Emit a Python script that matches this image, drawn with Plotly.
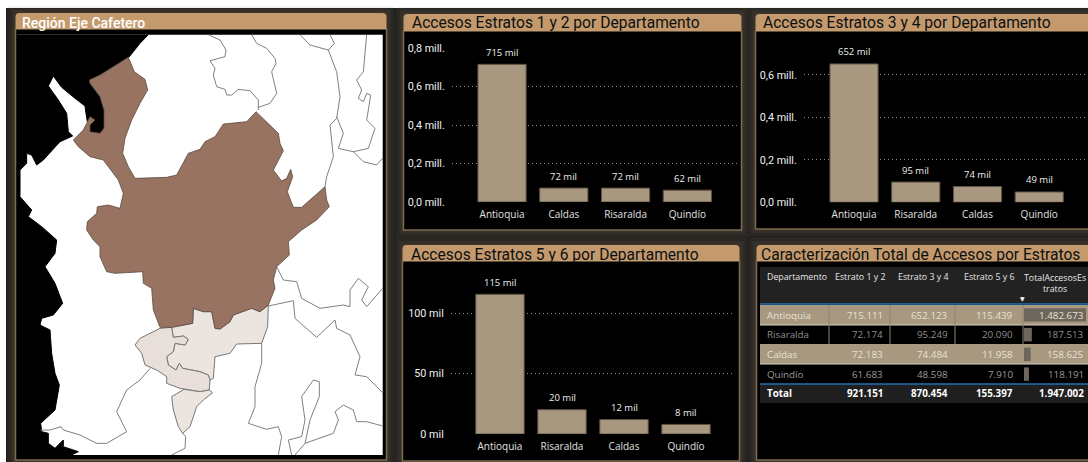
import plotly.graph_objects as go

W, H = 1088, 462

# --- bar data ---
DEPT_12 = ["Antioquia", "Caldas", "Risaralda", "Quindío"]
VALS_12 = [715111, 72183, 72174, 61683]
LABELS_12 = ["715 mil", "72 mil", "72 mil", "62 mil"]

DEPT_34 = ["Antioquia", "Risaralda", "Caldas", "Quindío"]
VALS_34 = [652123, 95249, 74484, 48598]
LABELS_34 = ["652 mil", "95 mil", "74 mil", "49 mil"]

DEPT_56 = ["Antioquia", "Risaralda", "Caldas", "Quindío"]
VALS_56 = [115439, 20090, 11958, 7910]
LABELS_56 = ["115 mil", "20 mil", "12 mil", "8 mil"]

TICKS_MILL = [0, 200000, 400000, 600000, 800000]
TICKTEXT_MILL = ["0,0 mill.", "0,2 mill.", "0,4 mill.", "0,6 mill.", "0,8 mill."]
TICKS_MIL = [0, 50000, 100000]
TICKTEXT_MIL = ["0 mil", "50 mil", "100 mil"]

# --- table data ---
TABLE_HEADER = ["Departamento", "Estrato 1 y 2", "Estrato 3 y 4", "Estrato 5 y 6"]
TABLE_DEPTS = ["Antioquia", "Risaralda", "Caldas", "Quindío", "Total"]
TABLE_E12 = ["715.111", "72.174", "72.183", "61.683", "921.151"]
TABLE_E34 = ["652.123", "95.249", "74.484", "48.598", "870.454"]
TABLE_E56 = ["115.439", "20.090", "11.958", "7.910", "155.397"]
TABLE_TOTAL = ["1.482.673", "187.513", "158.625", "118.191", "1.947.002"]
TOTAL_VALUES = [1482673, 187513, 158625, 118191]

SEA_TOP = [(51, 104), (445, 104), (420, 130), (388, 170), (300, 225), (268, 240), (270, 250), (300, 290),
           (312, 330), (312, 385), (300, 400), (270, 395), (270, 375), (285, 360), (270, 350), (262, 365),
           (258, 340), (255, 318), (225, 295), (185, 262), (160, 228), (145, 258), (175, 300), (200, 340),
           (205, 395), (218, 408), (180, 425), (130, 480), (110, 495), (95, 465), (80, 460), (80, 490),
           (60, 510), (60, 590), (95, 630), (85, 650), (125, 680)]
SEA_LOW = [(170, 30), (165, 70), (135, 110), (165, 160), (188, 220), (160, 255), (125, 265), (120, 285),
           (150, 300), (155, 370), (165, 430), (178, 465), (165, 540), (122, 580), (125, 605), (145, 610),
           (145, 640), (165, 655), (190, 630), (190, 650), (235, 665), (215, 675), (51, 675)]

ANTIOQUIA_TOP = [(385, 172), (403, 215), (435, 238), (443, 270), (420, 310), (395, 360), (375, 415), (368, 460),
                 (385, 500), (405, 535), (500, 532), (530, 525), (565, 460), (600, 448), (615, 425), (645, 410),
                 (670, 372), (740, 365), (768, 335), (835, 400), (840, 430), (850, 452), (820, 510), (845, 543),
                 (860, 535), (872, 508), (878, 530), (862, 575), (880, 622), (905, 622), (975, 560), (980, 600),
                 (988, 620), (950, 660)]
ANTIOQUIA_LOW = [(905, 0), (865, 35), (868, 75), (830, 110), (820, 150), (825, 175), (805, 225), (780, 245),
                 (755, 235), (700, 255), (690, 275), (660, 297), (645, 295), (635, 245), (610, 245), (580, 235),
                 (578, 280), (515, 292), (480, 292), (460, 240), (455, 175), (430, 160), (428, 125), (345, 130),
                 (320, 125), (300, 80), (300, 50), (280, 30), (260, 0)]
ANTIOQUIA_END = [(262, 665), (290, 640), (292, 620), (325, 615), (360, 625), (370, 580), (355, 540), (310, 480),
                 (270, 470), (235, 440), (220, 420), (250, 390), (262, 365), (270, 350), (285, 360), (270, 375),
                 (270, 395), (300, 400), (312, 385), (312, 330), (300, 290), (270, 250), (268, 240), (300, 225),
                 (385, 172)]

CALDAS_LOW = [(515, 292), (578, 280), (580, 235), (610, 245), (635, 245), (645, 295), (660, 297), (690, 275),
              (700, 255), (755, 235), (780, 245), (805, 225), (803, 290), (785, 340), (710, 342), (690, 370),
              (645, 380), (640, 445), (630, 450), (625, 435), (600, 425), (570, 420), (548, 415), (538, 400),
              (528, 420), (505, 405), (500, 380), (520, 365), (525, 340), (555, 345), (565, 328), (550, 318),
              (520, 322), (515, 292)]
RISARALDA_LOW = [(515, 292), (480, 295), (420, 325), (405, 345), (425, 370), (435, 405), (470, 420), (500, 440),
                 (500, 460), (540, 475), (600, 485), (628, 480), (630, 450), (625, 435), (600, 425), (570, 420),
                 (548, 415), (538, 400), (528, 420), (505, 405), (500, 380), (520, 365), (525, 340), (555, 345),
                 (565, 328), (550, 318), (520, 322), (515, 292)]
QUINDIO_LOW = [(552, 478), (515, 500), (520, 540), (535, 590), (548, 610), (570, 590), (590, 530), (610, 510),
               (638, 488), (628, 480), (600, 485), (552, 478)]

BORDERS_TOP = [
    [(625, 104), (660, 120), (678, 150), (675, 170), (630, 182), (645, 205), (640, 225), (650, 260), (675, 268),
     (680, 285), (695, 285), (715, 268), (750, 272), (775, 300), (775, 330)],
    [(755, 104), (770, 130), (800, 145), (825, 175), (828, 190), (815, 215), (830, 280), (810, 310), (775, 322)],
    [(900, 104), (930, 135), (985, 150), (1003, 130), (990, 104)],
    [(985, 150), (1010, 215), (1020, 290), (1010, 355), (990, 375), (1000, 470), (980, 530), (975, 560)],
    [(1010, 350), (1030, 400), (1015, 445), (1060, 455), (1090, 485), (1130, 495), (1148, 475)],
    [(1100, 104), (1095, 170), (1090, 215), (1070, 240), (1085, 270), (1075, 295), (1090, 305), (1100, 280),
     (1112, 285), (1105, 330), (1100, 360), (1125, 385), (1105, 445), (1060, 455)],
]
BORDERS_LOW = [
    [(830, 110), (850, 150), (890, 155), (905, 205), (960, 235), (1030, 225), (1050, 230), (1050, 180), (1075, 145),
     (1105, 170), (1085, 210), (1100, 230), (1148, 175)],
    [(805, 228), (880, 212), (885, 265), (950, 322), (1005, 270), (1010, 295), (1050, 315), (1080, 380), (1065, 435),
     (1100, 440), (1148, 488)],
    [(785, 340), (785, 400), (765, 470), (765, 530), (745, 580), (800, 598), (835, 590), (845, 620), (835, 675)],
    [(450, 415), (420, 450), (380, 480), (350, 545), (380, 605), (320, 640), (290, 640), (240, 615), (190, 600),
     (183, 590), (150, 600), (122, 600)],
    [(548, 610), (557, 620), (555, 655), (515, 675)],
    [(875, 675), (865, 630), (905, 620), (915, 570), (905, 500), (940, 450), (958, 455), (958, 500), (930, 570),
     (915, 640), (885, 675)],
    [(915, 640), (1000, 610), (1015, 570), (1005, 545), (1030, 525), (1060, 540), (1070, 575), (1100, 575),
     (1148, 588)],
]

BG = "#232220"
TAN = "#c49a6c"
EDGE = "#7d6a50"
BAR = "#a89880"
BAR_EDGE = "#5e5242"
GRID = "#8c8983"
TITLE_FONT = "Roboto"
LABEL_FONT = "Open Sans"


def px(x):
    return x / W


def py(y):
    return 1 - y / H


def low(points):
    return [(x, y + 690) for x, y in points]


def add_map_shape(fig, points, fill=None, line="#808080", width=1.0):
    fig.add_trace(go.Scatter(
        x=[p[0] for p in points], y=[p[1] for p in points],
        mode="lines", xaxis="x6", yaxis="y6", hoverinfo="skip", showlegend=False,
        fill="toself" if fill else None, fillcolor=fill,
        line=dict(color=line, width=width),
    ))


def panel_shapes(x0, x1, y0, ytitle, y1):
    shapes = []
    for grow in (7, 4, 2):
        shapes.append(dict(type="rect", xref="paper", yref="paper", layer="below",
                           x0=px(x0 - grow), x1=px(x1 + grow), y0=py(y1 + grow), y1=py(y0 - grow),
                           fillcolor="rgba(130,110,80,0.09)", line=dict(width=0)))
    shapes.append(dict(type="rect", xref="paper", yref="paper", layer="below",
                       x0=px(x0), x1=px(x1), y0=py(y1), y1=py(ytitle),
                       fillcolor="#000000", line=dict(color=EDGE, width=1.5)))
    r = 4
    path = (f"M {px(x0)},{py(ytitle)} L {px(x0)},{py(y0 + r)} Q {px(x0)},{py(y0)} {px(x0 + r)},{py(y0)} "
            f"L {px(x1 - r)},{py(y0)} Q {px(x1)},{py(y0)} {px(x1)},{py(y0 + r)} L {px(x1)},{py(ytitle)} Z")
    shapes.append(dict(type="path", xref="paper", yref="paper", layer="below", path=path,
                       fillcolor=TAN, line=dict(width=0)))
    return shapes


def title(text, x, y, color="#0c0f12", size=15.6, weight=400):
    return dict(text=text, xref="paper", yref="paper", x=px(x), y=py(y),
                xanchor="left", yanchor="middle", showarrow=False,
                font=dict(family=TITLE_FONT, size=size, color=color, weight=weight))


def bar_axes(n, dom_x, dom_y, xr, yr, tickvals, ticktext):
    return {
        f"xaxis{n}": dict(domain=[px(dom_x[0]), px(dom_x[1])], range=xr, type="category", anchor=f"y{n}",
                          automargin=False, showgrid=False, zeroline=False, showline=False,
                          ticks="outside", ticklen=3, tickcolor="rgba(0,0,0,0)",
                          tickfont=dict(family=LABEL_FONT, size=10, color="#e2e2e2")),
        f"yaxis{n}": dict(domain=[py(dom_y[1]), py(dom_y[0])], range=yr, anchor=f"x{n}", automargin=False,
                          tickvals=tickvals, ticktext=ticktext, showgrid=True, gridcolor=GRID, gridwidth=1,
                          griddash="1px,3px", zeroline=False, showline=False,
                          ticks="outside", ticklen=4, tickcolor="rgba(0,0,0,0)",
                          tickfont=dict(family=TITLE_FONT, size=10.8, color="#f0f0f0")),
    }


def add_bars(fig, n, cats, vals):
    suffix = "" if n == 1 else str(n)
    fig.add_trace(go.Bar(x=cats, y=vals, width=0.78, xaxis=f"x{suffix}", yaxis=f"y{suffix}", showlegend=False,
                         marker=dict(color=BAR, line=dict(color=BAR_EDGE, width=1))))


def value_labels(n, cats, vals, labels):
    suffix = "" if n == 1 else str(n)
    return [dict(text=t, x=c, y=v, xref=f"x{suffix}", yref=f"y{suffix}", yshift=12, showarrow=False,
                 xanchor="center", yanchor="middle", font=dict(family=LABEL_FONT, size=9.5, color="#eeeeee"))
            for c, v, t in zip(cats, vals, labels)]


fig = go.Figure()

# map
add_map_shape(fig, SEA_TOP + low(SEA_LOW), fill="#000000", line="#000000")
for b in BORDERS_TOP:
    add_map_shape(fig, b)
for b in BORDERS_LOW:
    add_map_shape(fig, low(b))
add_map_shape(fig, low(CALDAS_LOW), fill="#ece4df", line="#777777")
add_map_shape(fig, low(RISARALDA_LOW), fill="#e8dfda", line="#777777")
add_map_shape(fig, low(QUINDIO_LOW), fill="#ece4df", line="#777777")
add_map_shape(fig, ANTIOQUIA_TOP + low(ANTIOQUIA_LOW) + ANTIOQUIA_END, fill="#987361", line="#5c4a3e", width=0.8)

# bars
add_bars(fig, 1, DEPT_12, VALS_12)
add_bars(fig, 2, DEPT_34, VALS_34)
add_bars(fig, 3, DEPT_56, VALS_56)

# data bars in the total column
fig.add_trace(go.Bar(x=TOTAL_VALUES, y=TABLE_DEPTS[:4], orientation="h", width=0.68, xaxis="x5", yaxis="y5",
                     showlegend=False, marker=dict(color="#6d665a", line=dict(width=0))))

shapes = [
    dict(type="rect", xref="paper", yref="paper", x0=0, x1=1, y0=py(8), y1=1, fillcolor="#ffffff",
         line=dict(width=0), layer="below"),
    dict(type="rect", xref="paper", yref="paper", x0=0, x1=px(6), y0=0, y1=1, fillcolor="#ffffff",
         line=dict(width=0), layer="below"),
]
shapes += panel_shapes(15.5, 386.5, 13, 29, 460)
shapes += panel_shapes(403.5, 741.5, 14, 31, 230)
shapes += panel_shapes(755.5, 1095, 14, 31, 229)
shapes += panel_shapes(402.5, 739.5, 245, 261, 461)
shapes += panel_shapes(756.5, 1095, 245, 261, 460)
# white sheet under the map
shapes.append(dict(type="rect", xref="paper", yref="paper", layer="below", x0=px(17), x1=px(382.7),
                   y0=py(455), y1=py(34.7), fillcolor="#ffffff", line=dict(width=0)))

# table bands and rules
COL_EDGES = [760, 829, 890, 955, 1023, 1088]
ROW_EDGES = [305, 325, 344, 364, 384, 403]
BAND_ROWS = [0, 2]
shapes.append(dict(type="rect", xref="paper", yref="paper", layer="below", x0=px(760), x1=1,
                   y0=py(304), y1=py(267), fillcolor="#222222", line=dict(width=0)))
shapes.append(dict(type="rect", xref="paper", yref="paper", layer="below", x0=px(760), x1=1,
                   y0=py(403), y1=py(384), fillcolor="#1f1f1f", line=dict(width=0)))
for i in BAND_ROWS:
    shapes.append(dict(type="rect", xref="paper", yref="paper", layer="below", x0=px(760), x1=1,
                       y0=py(ROW_EDGES[i + 1]), y1=py(ROW_EDGES[i]), fillcolor=BAR,
                       line=dict(width=0)))
    shapes.append(dict(type="line", xref="paper", yref="paper", layer="below", x0=px(760), x1=1,
                       y0=py(ROW_EDGES[i + 1]), y1=py(ROW_EDGES[i + 1]), line=dict(color="#d8d2c8", width=1)))
for y in (304, 384):
    shapes.append(dict(type="line", xref="paper", yref="paper", layer="below", x0=px(760), x1=1,
                       y0=py(y), y1=py(y), line=dict(color="#1f6fb5", width=1.3)))
for x in COL_EDGES[1:5]:
    shapes.append(dict(type="line", xref="paper", yref="paper", layer="below", x0=px(x), x1=px(x),
                       y0=py(344), y1=py(305), line=dict(color="#8f826e", width=1)))

annotations = [
    title("Región Eje Cafetero", 20, 23, color="#ffffff", size=14, weight=500),
    title("Accesos Estratos 1 y 2 por Departamento", 410, 23.5),
    title("Accesos Estratos 3 y 4 por Departamento", 761, 23.5),
    title("Accesos Estratos 5 y 6 por Departamento", 409, 255),
    title("Caracterización Total de Accesos por Estratos", 759, 255),
]
annotations += value_labels(1, DEPT_12, VALS_12, LABELS_12)
annotations += value_labels(2, DEPT_34, VALS_34, LABELS_34)
annotations += value_labels(3, DEPT_56, VALS_56, LABELS_56)

# table text
HEADER_X = [765, 828 + 32, 890 + 33, 955 + 34]
for i, h in enumerate(TABLE_HEADER):
    annotations.append(dict(text=h, xref="paper", yref="paper", x=px(HEADER_X[i]), y=py(276.5), showarrow=False,
                            xanchor="left" if i == 0 else "center", yanchor="middle",
                            font=dict(family=LABEL_FONT, size=8.8, color="#e6e6e6")))
annotations.append(dict(text="TotalAccesosEs<br>tratos", xref="paper", yref="paper", x=px(1055), y=py(283),
                        showarrow=False, xanchor="center", yanchor="middle",
                        font=dict(family=LABEL_FONT, size=8.8, color="#e6e6e6")))
annotations.append(dict(text="▼", xref="paper", yref="paper", x=px(1027), y=py(298), showarrow=False,
                        font=dict(family="DejaVu Sans", size=6, color="#ffffff")))

ROW_TEXT = ["#e9e2d8", "#8e8e8e", "#e9e2d8", "#9a9a9a", "#ffffff"]
RIGHT_X = [885, 950, 1015, 1086]
for r, dept in enumerate(TABLE_DEPTS):
    yc = (ROW_EDGES[r] + ROW_EDGES[r + 1]) / 2
    is_total = dept == "Total"
    annotations.append(dict(text=f"<b>{dept}</b>" if is_total else dept, xref="paper", yref="paper",
                            x=px(765), y=py(yc), showarrow=False, xanchor="left", yanchor="middle",
                            font=dict(family=LABEL_FONT, size=9.8, color=ROW_TEXT[r])))
    for col, vals in enumerate([TABLE_E12, TABLE_E34, TABLE_E56, TABLE_TOTAL]):
        text = vals[r]
        annotations.append(dict(text=f"<b>{text}</b>" if is_total else text, xref="paper", yref="paper",
                                x=px(RIGHT_X[col]), y=py(yc), showarrow=False, xanchor="right", yanchor="middle",
                                font=dict(family=LABEL_FONT, size=9.8, color=ROW_TEXT[r])))

layout_axes = {}
layout_axes.update(bar_axes("", (452, 738), (48, 202), [-0.81, 3.82], [0, 800000], TICKS_MILL, TICKTEXT_MILL))
layout_axes.update(bar_axes(2, (804, 1088), (58, 202.3), [-0.81, 3.79], [0, 680000], TICKS_MILL[:4], TICKTEXT_MILL[:4]))
layout_axes.update(bar_axes(3, (451, 735), (276.7, 434), [-0.79, 3.79], [0, 130000], TICKS_MIL, TICKTEXT_MIL))
layout_axes["xaxis"]["anchor"] = "y"
layout_axes["yaxis"]["anchor"] = "x"
# data bar axes
layout_axes["xaxis5"] = dict(domain=[px(1024), 1], range=[0, 1530000], visible=False, anchor="y5", automargin=False)
layout_axes["yaxis5"] = dict(domain=[py(384), py(305)], categoryorder="array", categoryarray=TABLE_DEPTS[:4],
                             autorange="reversed", visible=False, anchor="x5", automargin=False)
# map axes
layout_axes["xaxis6"] = dict(domain=[px(17), px(383)], range=[51, 1149], visible=False, anchor="y6", automargin=False)
layout_axes["yaxis6"] = dict(domain=[py(455), py(34.7)], range=[1365, 104], visible=False, anchor="x6", automargin=False)

fig.update_layout(
    width=W, height=H,
    margin=dict(l=0, r=0, t=0, b=0, autoexpand=False),
    paper_bgcolor=BG,
    plot_bgcolor="rgba(0,0,0,0)",
    showlegend=False,
    shapes=shapes,
    annotations=annotations,
    **layout_axes,
)

fig.write_html("out.html", config={"displayModeBar": False},
               post_script="document.body.style.margin='0';document.body.style.overflow='hidden';")
